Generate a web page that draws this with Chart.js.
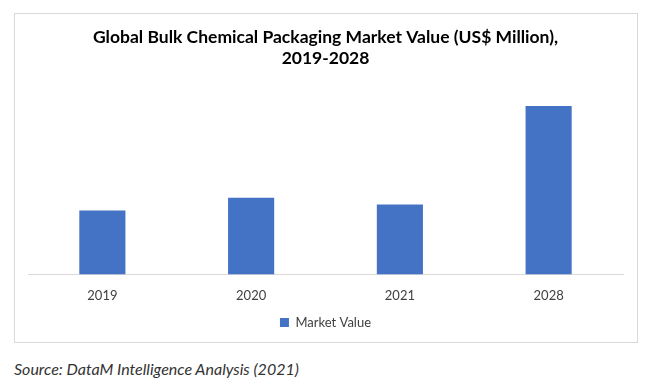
<!DOCTYPE html>
<html>
<head>
<meta charset="utf-8">
<script src="https://cdn.jsdelivr.net/npm/chart.js@4.4.0/dist/chart.umd.min.js"></script>
<style>
    body { margin: 0; background: #fff; width: 665px; height: 389px; position: relative; overflow: hidden; }
    #box { position: absolute; left: 14px; top: 13px; width: 624px; height: 330px; border: 1px solid #d9d9d9; box-sizing: border-box; }
    #box canvas { display: block; }
    #source { position: absolute; left: 14px; top: 359px; font-family: Lato, sans-serif; font-style: italic; font-size: 16px; color: #333; }
</style>
</head>
<body>
<div id="box"><canvas id="market-chart" width="622" height="328"></canvas></div>
<div id="source">Source: DataM Intelligence Analysis (2021)</div>
<script>
// Data grafik
const years = ['2019', '2020', '2021', '2028'];
const marketValue = [1280, 1540, 1400, 3380];
const titleLines = ['Global Bulk Chemical Packaging Market Value (US$ Million),', '2019-2028'];

const ctx = document.getElementById('market-chart');

new Chart(ctx, {
    type: 'bar',
    data: {
        labels: years,
        datasets: [{
            label: 'Market Value',
            data: marketValue,
            backgroundColor: '#4472c4',
            barPercentage: 0.31,
            categoryPercentage: 1
        }]
    },
    options: {
        responsive: false,
        animation: false,
        layout: {
            padding: { left: 13, right: 14, top: 4, bottom: 3 }
        },
        scales: {
            x: {
                grid: { display: false },
                border: { display: true, color: '#d9d9d9', width: 1 },
                ticks: {
                    color: '#404040',
                    font: { family: 'Lato', size: 13 },
                    padding: 6
                }
            },
            y: {
                display: false,
                min: 0,
                max: 3800
            }
        },
        plugins: {
            title: {
                display: true,
                text: titleLines,
                color: '#000',
                font: { family: 'Lato', size: 17.5, weight: 'bold', lineHeight: 1.2 },
                padding: { top: 9, bottom: 16 }
            },
            legend: {
                position: 'bottom',
                labels: {
                    boxWidth: 9,
                    boxHeight: 9,
                    color: '#404040',
                    font: { family: 'Lato', size: 13 },
                    padding: 6
                }
            },
            tooltip: { enabled: false }
        }
    }
});
</script>
</body>
</html>
